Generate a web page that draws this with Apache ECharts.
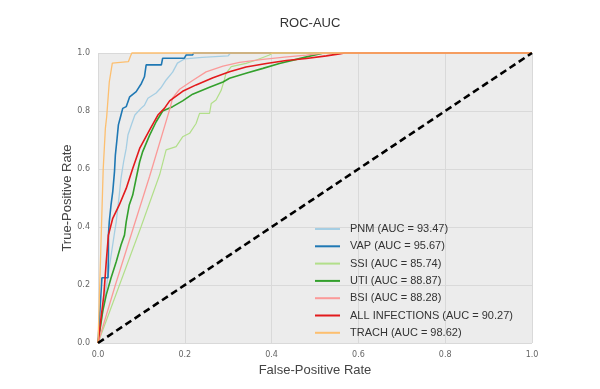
<!DOCTYPE html>
<html>
<head>
<meta charset="utf-8">
<script src="https://cdn.jsdelivr.net/npm/echarts@6/dist/echarts.min.js"></script>
<style>html,body{margin:0;padding:0;background:#fff}#c{width:600px;height:389px}</style>
</head>
<body>
<div id="c"></div>
<script>
const seriesNames = ['PNM (AUC = 93.47)','VAP (AUC = 95.67)','SSI (AUC = 85.74)','UTI (AUC = 88.87)','BSI (AUC = 88.28)','ALL INFECTIONS (AUC = 90.27)','TRACH (AUC = 98.62)'];
const xTicks = [0, 0.2, 0.4, 0.6, 0.8, 1.0];

const PNM = [[0,0],[0.015,0.15],[0.03,0.3],[0.038,0.38],[0.042,0.418],[0.049,0.51],[0.053,0.568],[0.059,0.625],[0.065,0.671],[0.069,0.717],[0.078,0.757],[0.085,0.786],[0.099,0.809],[0.107,0.82],[0.115,0.844],[0.134,0.862],[0.145,0.88],[0.157,0.907],[0.172,0.934],[0.183,0.965],[0.2,0.98],[0.24,0.985],[0.3,0.99],[0.305,1],[1,1]];
const VAP = [[0,0],[0.009,0.225],[0.023,0.225],[0.024,0.3],[0.024,0.372],[0.026,0.418],[0.03,0.476],[0.034,0.522],[0.038,0.591],[0.04,0.648],[0.044,0.706],[0.047,0.752],[0.053,0.786],[0.057,0.809],[0.065,0.815],[0.073,0.849],[0.088,0.867],[0.1,0.895],[0.107,0.918],[0.111,0.959],[0.146,0.959],[0.149,0.982],[0.199,0.982],[0.203,0.993],[0.218,0.993],[0.22,1],[1,1]];
const SSI = [[0,0],[0.099,0.4],[0.142,0.58],[0.157,0.666],[0.18,0.677],[0.195,0.711],[0.211,0.723],[0.226,0.757],[0.234,0.792],[0.257,0.792],[0.261,0.826],[0.272,0.838],[0.284,0.872],[0.291,0.907],[0.295,0.93],[0.307,0.953],[0.341,0.964],[0.365,0.976],[0.395,0.993],[0.402,1],[1,1]];
const UTI = [[0,0],[0.011,0.11],[0.019,0.166],[0.03,0.224],[0.042,0.28],[0.053,0.338],[0.061,0.372],[0.065,0.418],[0.072,0.476],[0.08,0.51],[0.088,0.568],[0.096,0.625],[0.103,0.66],[0.119,0.717],[0.134,0.763],[0.149,0.8],[0.172,0.815],[0.195,0.835],[0.218,0.858],[0.257,0.882],[0.288,0.9],[0.303,0.913],[0.341,0.93],[0.38,0.947],[0.418,0.964],[0.457,0.978],[0.49,0.99],[0.52,1],[1,1]];
const BSI = [[0,0],[0.04,0.2],[0.082,0.4],[0.119,0.575],[0.166,0.81],[0.172,0.845],[0.188,0.875],[0.218,0.905],[0.249,0.935],[0.288,0.955],[0.326,0.968],[0.38,0.978],[0.43,0.986],[0.48,0.993],[0.52,1],[1,1]];
const ALL = [[0,0],[0.0135,0.166],[0.019,0.28],[0.024,0.372],[0.034,0.43],[0.049,0.476],[0.065,0.533],[0.08,0.602],[0.096,0.671],[0.119,0.735],[0.138,0.786],[0.153,0.809],[0.165,0.835],[0.195,0.868],[0.226,0.89],[0.265,0.915],[0.303,0.935],[0.341,0.952],[0.388,0.964],[0.434,0.974],[0.48,0.981],[0.526,0.99],[0.556,0.997],[0.568,1],[1,1]];
const TRACH = [[0,0],[0.004,0.2],[0.008,0.4],[0.012,0.6],[0.017,0.74],[0.02,0.78],[0.026,0.9],[0.033,0.965],[0.035,0.97],[0.07,0.97],[0.075,0.99],[0.078,1],[1,1]];
const DIAG = [[0,0],[1,1]];

const seriesData = [PNM, VAP, SSI, UTI, BSI, ALL, TRACH];
const colors = ['#a6cee3','#1f78b4','#b2df8a','#33a02c','#fb9a99','#e31a1c','#fdbf6f'];
const widths = [1.3, 1.6, 1.2, 1.6, 1.3, 1.6, 1.3];

const chart = echarts.init(document.getElementById('c'), null, {renderer:'canvas'});
const series = seriesData.map((d,i)=>({
  name: seriesNames[i], type:'line', data:d, showSymbol:false, symbol:'none', clip:false,
  lineStyle:{color:colors[i], width:widths[i]}, itemStyle:{color:colors[i]}, animation:false, z:2+i
}));
series.push({
  name:'diag', type:'line', data:DIAG, showSymbol:false, symbol:'none', clip:false,
  lineStyle:{color:'#000', width:2.6, type:[7,4]}, animation:false, z:20
});
chart.setOption({
  backgroundColor:'#ffffff',
  animation:false,
  title:{text:'ROC-AUC', left:305, top:12, textAlign:'center',
    textStyle:{fontFamily:'Liberation Sans', fontSize:13, fontWeight:'normal', color:'#333'}},
  grid:{left:98, right:68, top:53, bottom:46, show:true, backgroundColor:'#ececec', borderWidth:0},
  legend:{orient:'vertical', left:310, top:217, data:seriesNames, icon:'rect', itemWidth:25, itemHeight:2,
    itemGap:3.3, textStyle:{fontFamily:'Liberation Sans', fontSize:11, color:'#333', lineHeight:14, padding:[0,0,0,5]}},
  xAxis:{type:'value', min:0, max:1, interval:0.2,
    name:'False-Positive Rate', nameLocation:'middle', nameGap:21,
    nameTextStyle:{fontFamily:'Liberation Sans', fontSize:13, color:'#444'},
    axisLine:{show:false}, axisTick:{show:false},
    axisLabel:{fontFamily:'DejaVu Sans', fontSize:8, color:'#666', margin:8, formatter:v=>v.toFixed(1)},
    splitLine:{show:true, lineStyle:{color:'#d9d9d9', width:1}}},
  yAxis:{type:'value', min:0, max:1, interval:0.2,
    name:'True-Positive Rate', nameLocation:'middle', nameGap:24, nameMoveOverlap:false,
    nameTextStyle:{fontFamily:'Liberation Sans', fontSize:13, color:'#444'},
    axisLine:{show:false}, axisTick:{show:false},
    axisLabel:{fontFamily:'DejaVu Sans', fontSize:8, color:'#666', margin:8, formatter:v=>v.toFixed(1)},
    splitLine:{show:true, lineStyle:{color:'#d9d9d9', width:1}}},
  series: series
});
</script>
</body>
</html>
